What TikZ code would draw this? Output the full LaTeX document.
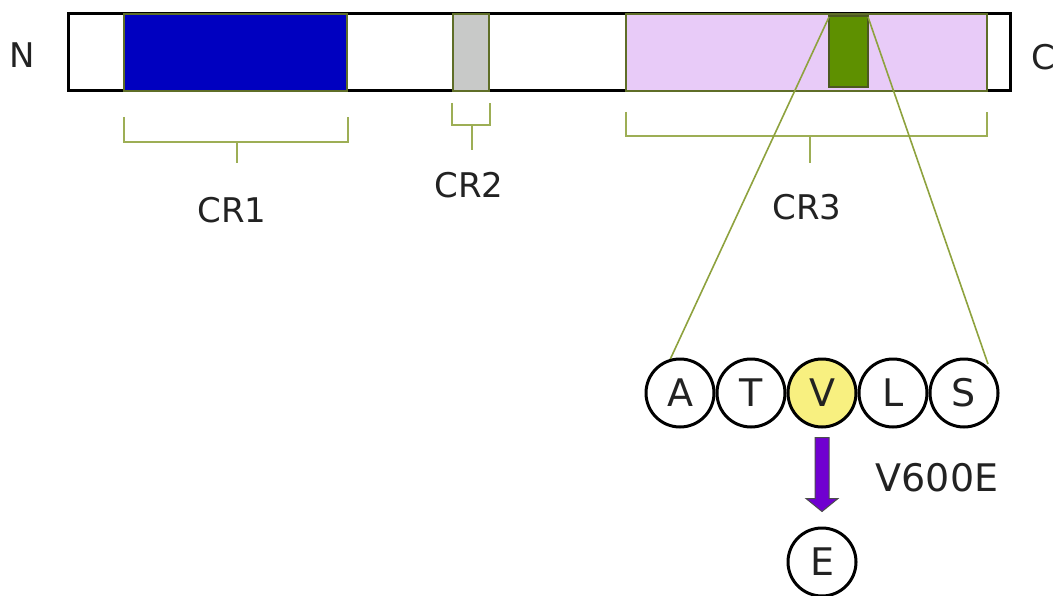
\documentclass[tikz,border=0pt]{standalone}
\usepackage{fontspec}
\setmainfont{DejaVu Sans}
\usetikzlibrary{calc}
\definecolor{olive}{HTML}{5F6E28}
\definecolor{brk}{HTML}{9DAE55}
\definecolor{fan}{HTML}{8EA23E}
\definecolor{cblue}{HTML}{0000C0}
\definecolor{cgray}{HTML}{C8C9C8}
\definecolor{clav}{HTML}{E8CBF8}
\definecolor{cgreen}{HTML}{5E9000}
\definecolor{cyel}{HTML}{F8F080}
\definecolor{cpur}{HTML}{7000D0}
\definecolor{txt}{HTML}{222222}
\tikzset{
  dom/.style={draw=olive, line width=2.5pt},
  brack/.style={draw=brk, line width=2pt},
  lbl/.style={text=txt, font=\fontsize{34}{40}\selectfont, inner sep=0pt},
  aa/.style={circle, draw=black, line width=3pt, fill=white, minimum size=68pt, inner sep=0pt, text=txt, font=\fontsize{38}{44}\selectfont},
}
\begin{document}
\begin{tikzpicture}[x=1pt,y=-1pt]
\useasboundingbox (0,0) rectangle (1057,596);
% main bar
\draw[line width=3pt, fill=white] (68,14) rectangle (1010,91);
\draw[dom, fill=cblue] (124,14) rectangle (347,91);
\draw[dom, fill=cgray] (453,14) rectangle (489,91);
\draw[dom, fill=clav] (626,14) rectangle (987,91);
\draw[dom, draw=olive!80!black, fill=cgreen] (829,16) rectangle (868,87);
\coordinate (gl) at (829,17);
\coordinate (gr) at (868,17);
% labels N C
\node[lbl] (N) at (22,55) {N};
\node[lbl, anchor=west] (C) at (1031,57) {C};
% brackets
\draw[brack] (124,117) -- (124,142) -- (348,142) -- (348,117);
\draw[brack] (237,142) -- (237,163);
\node[lbl] (cr1) at (232,210) {CR1};
\draw[brack] (452,103) -- (452,125) -- (490,125) -- (490,103);
\draw[brack] (472,125) -- (472,150);
\node[lbl] (cr2) at (469,185) {CR2};
\draw[brack] (626,112) -- (626,136) -- (987,136) -- (987,112);
\draw[brack] (810,136) -- (810,163);
\node[lbl] (cr3) at (807,207) {CR3};
% fan lines
\coordinate (fa) at (668,364);
\coordinate (fs) at (988,364);
\draw[fan, line width=1.6pt] (gl) -- (fa);
\draw[fan, line width=1.6pt] (gr) -- (fs);
% residues
\node[aa] (A) at (680,393) {A};
\node[aa] (T) at (751,393) {T};
\node[aa, fill=cyel] (V) at (822,393) {V};
\node[aa] (L) at (893,393) {L};
\node[aa] (S) at (964,393) {S};
% arrow
\node[aa, minimum size=68pt] (E) at (822,562) {E};
\draw[fill=cpur, draw=black!70, line width=1pt]
  ($(V.south)+(-7,9)$) -- ($(V.south)+(7,9)$) -- ($(V.south)+(7,70)$) -- ($(V.south)+(16,70)$)
  -- ($(E.north)+(0,-15)$) -- ($(V.south)+(-16,70)$) -- ($(V.south)+(-7,70)$) -- cycle;
\node[text=txt, font=\fontsize{38}{44}\selectfont, inner sep=0pt] (mut) at (937,478) {V600E};
\end{tikzpicture}
\end{document}
